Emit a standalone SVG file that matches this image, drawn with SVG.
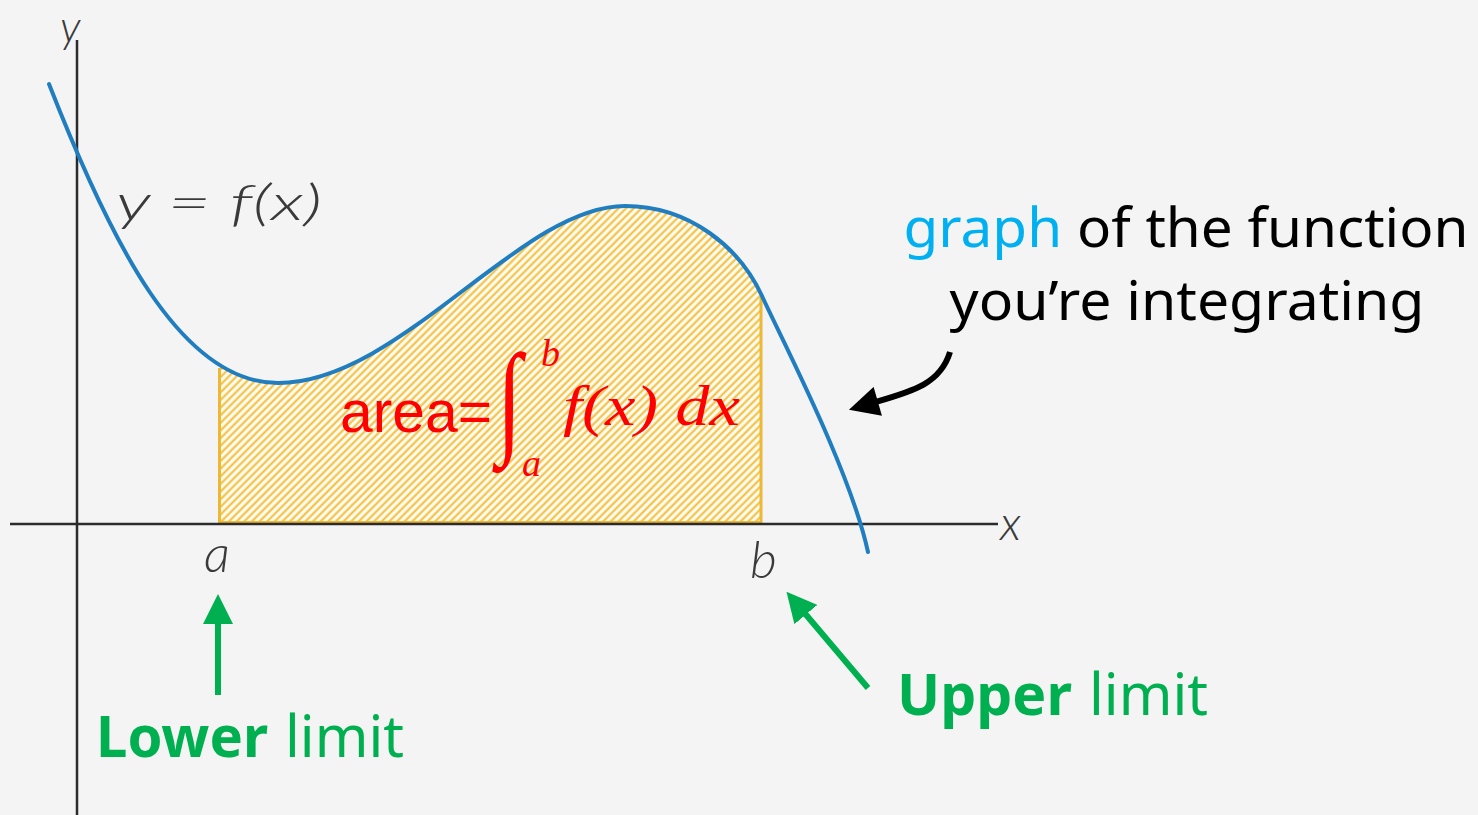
<svg xmlns="http://www.w3.org/2000/svg" width="1478" height="815" viewBox="0 0 1478 815">
  <defs>
    <pattern id="hatch" patternUnits="userSpaceOnUse" width="5.4" height="5.4" patternTransform="rotate(45)">
      <rect width="5.4" height="5.4" fill="#FFFBEF"/>
      <line x1="1.4" y1="0" x2="1.4" y2="5.4" stroke="#F2BE3C" stroke-width="2"/>
    </pattern>
    <clipPath id="band">
      <rect x="218" y="0" width="544" height="524"/>
    </clipPath>
    <marker id="headG" viewBox="0 0 10 10" refX="2" refY="5" markerWidth="5" markerHeight="5" orient="auto" markerUnits="strokeWidth">
      <path d="M0,0 L10,5 L0,10 Z" fill="#00B050"/>
    </marker>
    <marker id="headK" viewBox="0 0 10 10" refX="2" refY="5" markerWidth="5.4" markerHeight="5" orient="auto" markerUnits="strokeWidth">
      <path d="M0,0 L10,5 L0,10 Z" fill="#000"/>
    </marker>
    <style>
      .axis { stroke: #2b2b2b; stroke-width: 2.5; fill: none; }
      .curve { stroke: #1F7DC0; stroke-width: 4; fill: none; stroke-linecap: round; }
      .lbl { font-family: Lato, "Open Sans", "DejaVu Sans", sans-serif; font-style: italic; font-weight: 300; fill: #3a3a3a; }
      .math { font-family: "Liberation Serif", "DejaVu Serif", serif; font-style: italic; fill: #FF0000; }
      .note { font-family: "Noto Sans", "Open Sans", sans-serif; }
      .green { fill: #00B050; }
      .garrow { stroke: #00B050; stroke-width: 6; fill: none; }
    </style>
  </defs>
  <rect width="1478" height="815" fill="#F4F4F4"/>

  <g id="area">
    <path d="M49,84 C110,240 180,383 278,383 C400,383 520,206 625,206 C690,206 740,248 762,296 C784,344 850,470 868,552 L868,600 L49,600 Z" fill="url(#hatch)" clip-path="url(#band)"/>
    <line x1="219.5" y1="368" x2="219.5" y2="524" stroke="#EDB935" stroke-width="3"/>
    <line x1="761" y1="296" x2="761" y2="524" stroke="#EDB935" stroke-width="3"/>
    <line x1="218" y1="522" x2="762" y2="522" stroke="#EDB935" stroke-width="2"/>
  </g>

  <g id="axes">
    <line class="axis" x1="77" y1="40" x2="77" y2="815"/>
    <line class="axis" x1="10" y1="524" x2="998" y2="524"/>
    <text class="lbl" x="60" y="42" font-size="44">y</text>
    <text class="lbl" x="1000" y="540" font-size="48">x</text>
    <text class="lbl" x="204" y="572" font-size="52">a</text>
    <text class="lbl" x="750" y="578" font-size="52">b</text>
  </g>

  <g id="curve">
    <path class="curve" d="M49,84 C110,240 180,383 278,383 C400,383 520,206 625,206 C690,206 740,248 762,296 C784,344 850,470 868,552"/>
    <text class="lbl" x="116" y="220" font-size="50" textLength="206" lengthAdjust="spacingAndGlyphs">y = f(x)</text>
  </g>

  <g id="formula">
    <text x="340" y="432" font-family="'Liberation Sans', Arial, sans-serif" font-size="60" fill="#FF0000" textLength="152" lengthAdjust="spacingAndGlyphs">area=</text>
    <text transform="translate(497,440) scale(1,1.38)" x="0" y="0" font-size="90" fill="#FF0000" font-family="'Liberation Serif', serif">∫</text>
    <text class="math" x="541" y="366" font-size="38">b</text>
    <text class="math" x="522" y="476" font-size="38">a</text>
    <text class="math" x="563" y="425" font-size="56" textLength="177" lengthAdjust="spacingAndGlyphs">f(x) dx</text>
  </g>

  <g id="graph-note">
    <text class="note" x="1186" y="247" font-size="55" text-anchor="middle" textLength="565" lengthAdjust="spacingAndGlyphs"><tspan fill="#00B0F0">graph</tspan><tspan fill="#000"> of the function</tspan></text>
    <text class="note" x="1187" y="320" font-size="55" text-anchor="middle" fill="#000" textLength="475" lengthAdjust="spacingAndGlyphs">you’re integrating</text>
  </g>

  <g id="lower-note">
    <text class="note green" x="96" y="757" font-size="58" font-weight="bold" textLength="172" lengthAdjust="spacingAndGlyphs">Lower</text>
    <text class="note green" x="285" y="757" font-size="58" textLength="119" lengthAdjust="spacingAndGlyphs">limit</text>
  </g>

  <g id="upper-note">
    <text class="note green" x="897" y="715" font-size="58" font-weight="bold" textLength="175" lengthAdjust="spacingAndGlyphs">Upper</text>
    <text class="note green" x="1089" y="715" font-size="58" textLength="119" lengthAdjust="spacingAndGlyphs">limit</text>
  </g>

  <g id="connectors">
    <line class="garrow" x1="218" y1="695" x2="218" y2="618" marker-end="url(#headG)"/>
    <line class="garrow" x1="868" y1="688" x2="802" y2="610" marker-end="url(#headG)"/>
    <path d="M950,352 C940,385 910,392 872,403" stroke="#000" stroke-width="6" fill="none" marker-end="url(#headK)"/>
  </g>
</svg>
